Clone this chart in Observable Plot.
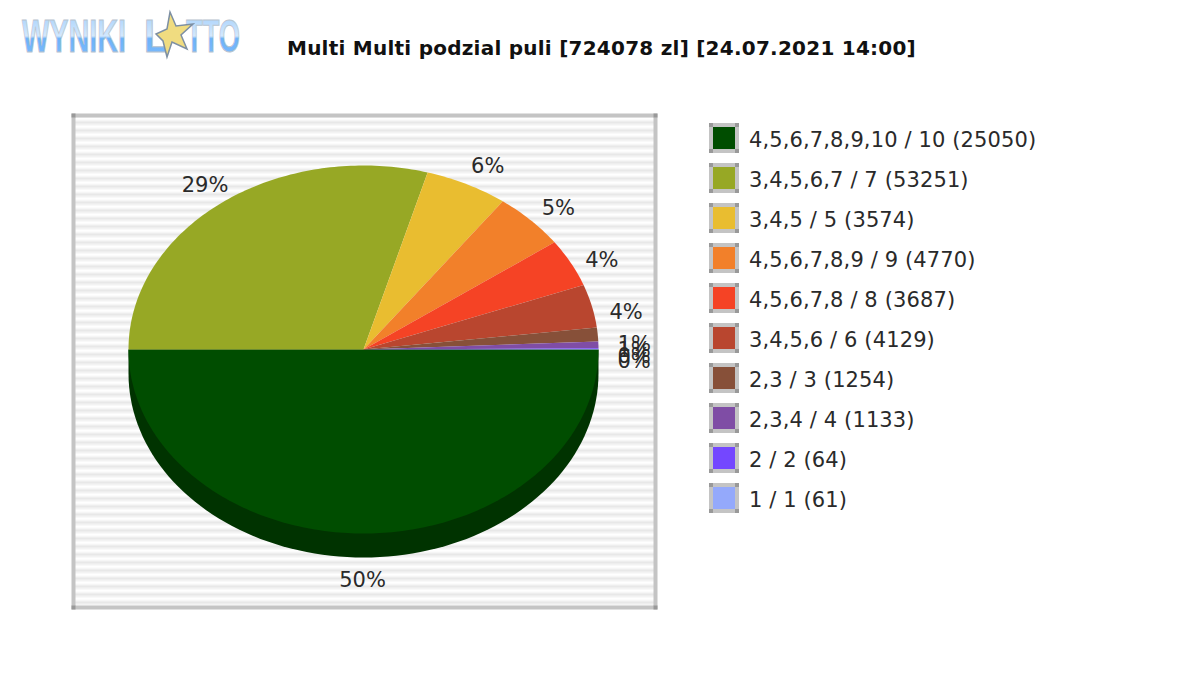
<!DOCTYPE html>
<html><head><meta charset="utf-8">
<script src="https://cdn.jsdelivr.net/npm/d3@7"></script>
<script src="https://cdn.jsdelivr.net/npm/@observablehq/plot@0.6"></script>
<style>
html,body{margin:0;padding:0;background:#fff;width:1200px;height:680px;overflow:hidden;font-family:"DejaVu Sans",sans-serif}
#chart{position:absolute;left:0;top:0}
#title{position:absolute;left:287px;top:34px;font-weight:bold;font-size:20px;letter-spacing:.24px;color:#111;white-space:nowrap;line-height:28px}
#legend{position:absolute;left:709px;top:123px}
.row{display:flex;align-items:center;height:30px;margin-bottom:10px;white-space:nowrap;font-size:21px;letter-spacing:.12px;color:#2a2a2a}
.row span{position:relative;top:2px}
.sw{width:22px;height:22px;border:4px solid #c4c4c4;margin-right:10px;position:relative;flex:none}
.sw i{position:absolute;width:4px;height:4px;background:#999}
#logo{position:absolute;left:0;top:0}
</style></head><body>
<div id="chart"></div>
<svg id="logo" width="280" height="70">
<defs><linearGradient id="lg" x1="0" x2="0" y1="0" y2="1">
<stop offset="0" stop-color="#9fcdfb"/><stop offset=".5" stop-color="#d3e8fd"/><stop offset=".55" stop-color="#6db2fa"/><stop offset="1" stop-color="#7fbcfb"/></linearGradient></defs>
<g font-family="Liberation Sans" font-weight="bold" font-size="46" fill="url(#lg)" stroke="#b9c4cf" stroke-width="1">
<text x="22" y="52" textLength="104" lengthAdjust="spacingAndGlyphs">WYNIKI</text>
<text x="144" y="52" textLength="24" lengthAdjust="spacingAndGlyphs">L</text>
<text x="186" y="52" textLength="54" lengthAdjust="spacingAndGlyphs">TTO</text></g>
<polygon points="170,12 176,26 193,24 181,35 187,49 172,42 167,57 163,41 156,34 167,29" fill="#f0dc80" stroke="#7d8fa3" stroke-width="1.5"/>
</svg>
<div id="title">Multi Multi podzial puli [724078 zl] [24.07.2021 14:00]</div>
<div id="legend"></div>
<script>
const categories = ["4,5,6,7,8,9,10 / 10 (25050)","3,4,5,6,7 / 7 (53251)","3,4,5 / 5 (3574)","4,5,6,7,8,9 / 9 (4770)","4,5,6,7,8 / 8 (3687)","3,4,5,6 / 6 (4129)","2,3 / 3 (1254)","2,3,4 / 4 (1133)","2 / 2 (64)","1 / 1 (61)"];
const shares = [50, 29.4, 5.7, 5, 4.2, 3.8, 1.2, 0.6, 0.05, 0.05];
const labels = ["50%","29%","6%","5%","4%","4%","1%","1%","0%","0%"];
const colors = ["#004d00","#97a825","#e9bd30","#f2802a","#f54325","#b9462f","#875039","#7f4da5","#7447ff","#94a9fb"];
const labelNudgeX = [-1,15,-2,1,2,4,6,5,5,5];
const labelNudgeY = [34,-7,-6,-3,3,9,11,6,8,12];

const depth = 24/184;
const rad = d => d*Math.PI/180;
let cum = 0;
const slicePts = [], labelPts = [];
shares.forEach((s,i)=>{
  const a0 = -cum/100*360, a1 = -(cum+s)/100*360;
  slicePts.push({i,x:0,y:0});
  const n = Math.max(2,Math.ceil(Math.abs(a1-a0)));
  for(let k=0;k<=n;k++){const a=rad(a0+(a1-a0)*k/n);slicePts.push({i,x:Math.cos(a),y:Math.sin(a)});}
  const m = rad((a0+a1)/2);
  const c = Math.cos(m), sn = Math.sin(m);
  labelPts.push({i,text:labels[i],x:c*249/235,y:sn*197/184,anchor:Math.abs(c)<0.01?"middle":c>0?"start":"end"});
  cum += s;
});
const shadow = [];
for(let a=0;a<=180;a+=2){shadow.push({x:Math.cos(rad(a)),y:-Math.sin(rad(a))-depth});}
shadow.unshift({x:1,y:0}); shadow.push({x:-1,y:0});

const defs = () => {
  const d = d3.create("svg:defs");
  const p = d.append("pattern").attr("id","stripes").attr("patternUnits","userSpaceOnUse").attr("width",8).attr("height",8).attr("y",5);
  p.append("rect").attr("width",8).attr("height",8).attr("fill","#ffffff");
  p.append("rect").attr("y",2.5).attr("width",8).attr("height",1.5).attr("fill","#f3f3f3");
  p.append("rect").attr("y",4).attr("width",8).attr("height",2.5).attr("fill","#e8e8e8");
  p.append("rect").attr("y",6.5).attr("width",8).attr("height",1.5).attr("fill","#f3f3f3");
  return d.node();
};
const corners = ["top-left","top-right","bottom-left","bottom-right"];

const plot = Plot.plot({
  width:1200,height:680,
  marginLeft:73,marginRight:545,marginTop:115,marginBottom:73,
  style:{background:"transparent"},
  x:{domain:[-1,1],range:[128,598],axis:null},
  y:{domain:[-1,1],range:[533,165],axis:null},
  marks:[
    defs,
    Plot.frame({stroke:"#c4c4c4",strokeWidth:4,fill:"url(#stripes)"}),
    ...corners.map(c=>Plot.dot([0],{frameAnchor:c,symbol:"square",r:2.26,fill:"#999999"})),
    Plot.line(shadow,{x:"x",y:"y",fill:"#003300",stroke:"none",curve:"linear"}),
    ...shares.map((_,i)=>Plot.line(slicePts.filter(d=>d.i===i),{x:"x",y:"y",fill:colors[i],stroke:"none",curve:"linear"})),
    ...labelPts.map((d,i)=>Plot.text([d],{x:"x",y:"y",text:"text",textAnchor:d.anchor,dx:labelNudgeX[i],dy:labelNudgeY[i],fontSize:21,fill:"#2a2a2a",fontFamily:"DejaVu Sans",letterSpacing:0.4}))
  ]
});
document.getElementById("chart").append(plot);

const lg = document.getElementById("legend");
categories.forEach((c,i)=>{
  const r=document.createElement("div");r.className="row";
  const s=document.createElement("div");s.className="sw";s.style.background=colors[i];
  [[-4,-4],[22,-4],[-4,22],[22,22]].forEach(([x,y])=>{const k=document.createElement("i");k.style.left=x+"px";k.style.top=y+"px";s.append(k);});
  const t=document.createElement("span");t.textContent=c;
  r.append(s,t);lg.append(r);
});
</script>
</body></html>
